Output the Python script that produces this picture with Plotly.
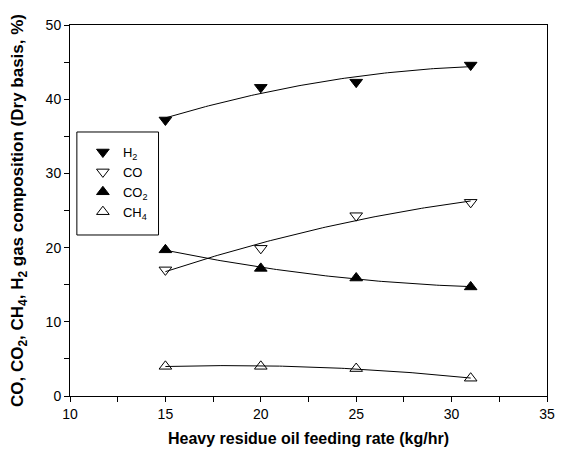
import numpy as np
import plotly.graph_objects as go

feed_rate = [15, 20, 25, 31]
h2 = [37.2, 41.6, 42.3, 44.6]
co = [17.0, 19.9, 24.3, 26.1]
co2 = [19.7, 17.2, 15.9, 14.7]
ch4 = [4.0, 4.0, 3.7, 2.4]

series = [
    ("H<sub>2</sub>", h2, "triangle-down", "black"),
    ("CO", co, "triangle-down-open", "black"),
    ("CO<sub>2</sub>", co2, "triangle-up", "black"),
    ("CH<sub>4</sub>", ch4, "triangle-up-open", "black"),
]

fig = go.Figure()
xf = np.linspace(min(feed_rate), max(feed_rate), 100)
for name, ys, sym, col in series:
    coef = np.polyfit(feed_rate, ys, 2)
    fig.add_trace(go.Scatter(x=xf, y=np.polyval(coef, xf), mode="lines",
                             line=dict(color="black", width=1), showlegend=False,
                             hoverinfo="skip"))
for name, ys, sym, col in series:
    fig.add_trace(go.Scatter(x=feed_rate, y=ys, mode="markers", name=name,
                             marker=dict(symbol=sym, size=11, color=col,
                                         line=dict(color="black", width=1))))

axis_common = dict(showline=True, linecolor="black", linewidth=1, mirror=True,
                   ticks="outside", ticklen=5, tickcolor="black", showgrid=False,
                   zeroline=False, ticklabeloverflow="allow",
                   tickfont=dict(family="Liberation Sans, Arial", size=14, color="black"))

fig.update_layout(
    width=549, height=457, autosize=False,
    margin=dict(l=62, r=2, t=17, b=69),
    plot_bgcolor="white", paper_bgcolor="white",
    font=dict(family="Liberation Sans, Arial", color="black"),
    xaxis=dict(range=[10, 35], tickvals=[10, 15, 20, 25, 30, 35],
               minor=dict(tickvals=[12.5, 17.5, 22.5, 27.5, 32.5], ticks="outside", ticklen=5, tickcolor="black"),
               title=dict(text="<b>Heavy residue oil feeding rate (kg/hr)</b>", font=dict(size=16), standoff=12),
               **axis_common),
    yaxis=dict(range=[0, 50], tickvals=[0, 10, 20, 30, 40, 50],
               minor=dict(tickvals=[5, 15, 25, 35, 45], ticks="outside", ticklen=5, tickcolor="black"),
               title=dict(text="<b>CO, CO<sub>2</sub>, CH<sub>4</sub>, H<sub>2</sub> gas composition (Dry basis, %)</b>",
                          font=dict(size=17), standoff=18),
               **axis_common),
    legend=dict(x=0.027, y=0.698, xanchor="left", yanchor="top",
                borderwidth=0, bgcolor="rgba(0,0,0,0)",
                font=dict(size=13), tracegroupgap=0, itemwidth=30),
    shapes=[dict(type="rect", xref="paper", yref="paper",
                 x0=0.0144, x1=0.1856, y0=0.434, y1=0.7116,
                 line=dict(color="black", width=1), fillcolor="rgba(0,0,0,0)", layer="below")],
)

fig.write_html("out.html", config={"responsive": False})
